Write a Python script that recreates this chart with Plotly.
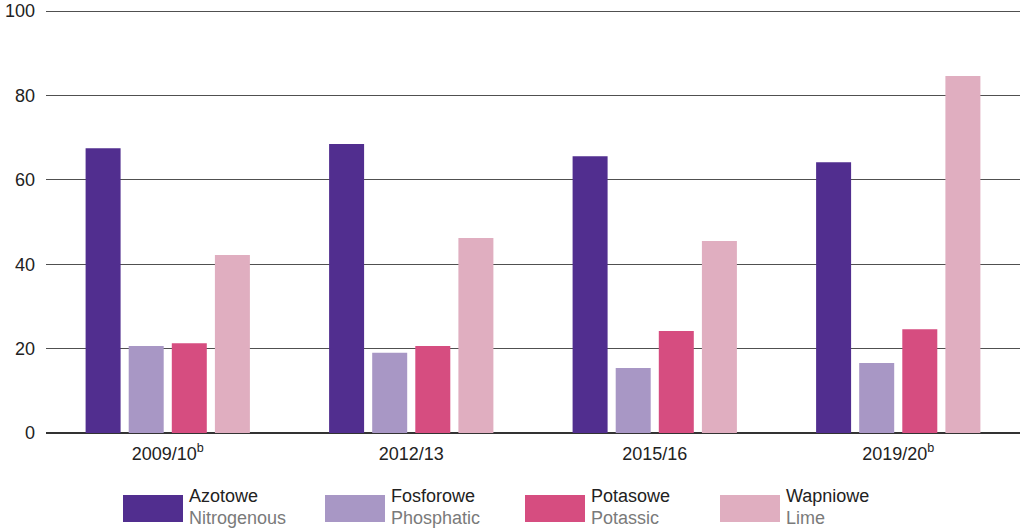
import plotly.graph_objects as go

categories = ["2009/10<sup>b</sup>", "2012/13", "2015/16", "2019/20<sup>b</sup>"]
azotowe = [67.5, 68.5, 65.6, 64.2]
fosforowe = [20.6, 19.0, 15.4, 16.6]
potasowe = [21.3, 20.6, 24.2, 24.6]
wapniowe = [42.2, 46.2, 45.5, 84.6]

series_pl = ["Azotowe", "Fosforowe", "Potasowe", "Wapniowe"]
series_en = ["Nitrogenous", "Phosphatic", "Potassic", "Lime"]
colors = ["#512E8F", "#A897C5", "#D64D80", "#E0AEC0"]
values = [azotowe, fosforowe, potasowe, wapniowe]

W, H = 1020, 530
L, R, T, B = 46, 0, 9, 97

fig = go.Figure()
for name, vals, col in zip(series_pl, values, colors):
    fig.add_trace(go.Bar(x=categories, y=vals, name=name, marker_color=col,
                         marker_line_width=0, showlegend=False))

def px_x(p):
    return (p - L) / (W - L - R)

def px_y(p):
    return (H - B - p) / (H - T - B)

shapes = []
annotations = []
leg_x = [123, 325, 525, 720]
for i in range(4):
    x0 = leg_x[i]
    shapes.append(dict(type="rect", xref="paper", yref="paper",
                       x0=px_x(x0), x1=px_x(x0 + 60), y0=px_y(522), y1=px_y(495),
                       fillcolor=colors[i], line_width=0))
    annotations.append(dict(xref="paper", yref="paper", x=px_x(x0 + 64), y=px_y(496),
                            xanchor="left", yanchor="middle", showarrow=False,
                            text=series_pl[i], font=dict(size=18, color="#222222")))
    annotations.append(dict(xref="paper", yref="paper", x=px_x(x0 + 64), y=px_y(518),
                            xanchor="left", yanchor="middle", showarrow=False,
                            text=series_en[i], font=dict(size=18, color="#7a7a7a")))

fig.update_layout(
    width=W, height=H,
    margin=dict(l=L, r=R, t=T, b=B, pad=0),
    paper_bgcolor="white", plot_bgcolor="white",
    barmode="group", bargap=0.292, bargroupgap=0.188,
    font=dict(family="Liberation Sans, Arial, sans-serif", size=18, color="#222222"),
    shapes=shapes, annotations=annotations,
    xaxis=dict(showgrid=False, showline=False, ticks="", tickfont=dict(size=18),
               ticklabelstandoff=8),
    yaxis=dict(range=[0, 100.5], tickvals=[0, 20, 40, 60, 80, 100], showgrid=True,
               gridcolor="#505050", gridwidth=1.2, zeroline=True, zerolinecolor="#333333",
               zerolinewidth=2, ticks="", showline=False, tickfont=dict(size=18),
               ticklabelstandoff=10),
)

fig.write_html("out.html", config={"displayModeBar": False},
               post_script="document.body.style.margin='0px';")
